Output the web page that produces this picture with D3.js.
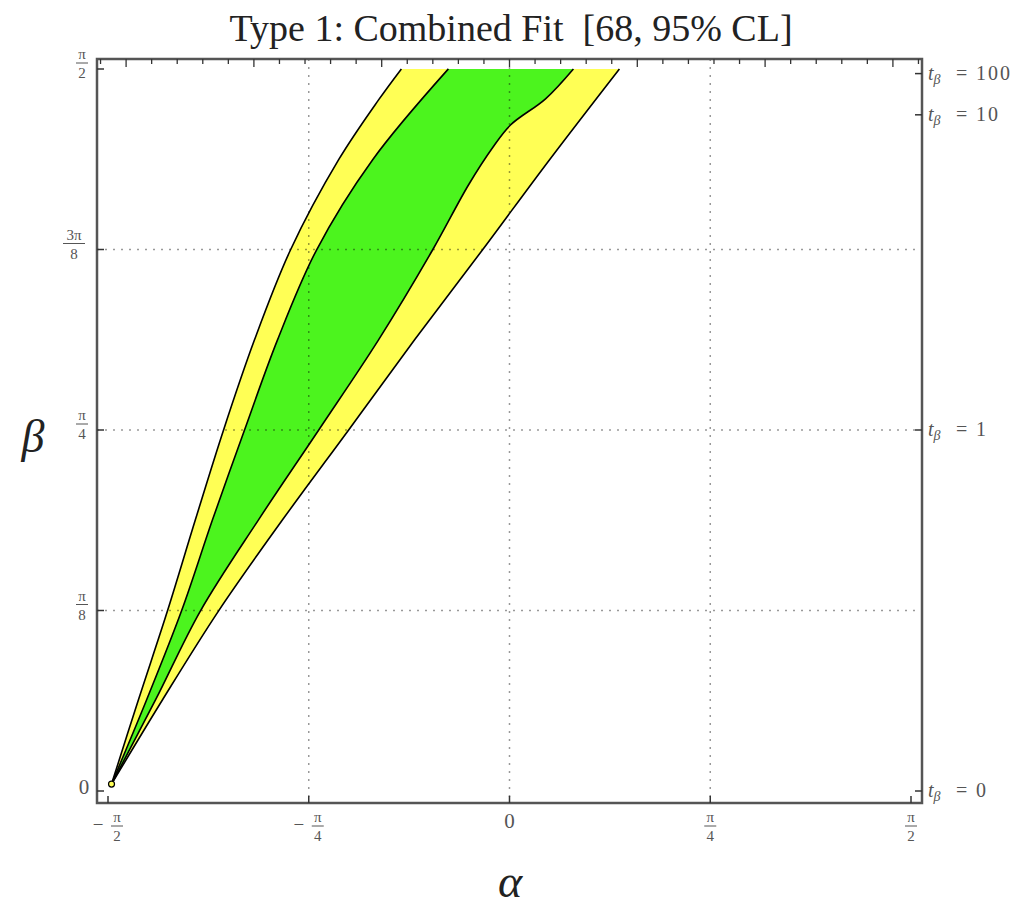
<!DOCTYPE html>
<html>
<head>
<meta charset="utf-8">
<script src="https://cdn.jsdelivr.net/npm/d3@7"></script>
<style>
body { margin: 0; background: #fff; }
text { font-family: "Liberation Serif", "DejaVu Serif", serif; }
</style>
</head>
<body>
<div id="chart"></div>
<script>
// region boundaries, [alpha, beta] in radians
var outerLeft = [[-1.557, 0.015], [-1.452, 0.198], [-1.338, 0.392], [-1.229, 0.590], [-1.119, 0.785],
  [-0.998, 0.981], [-0.857, 1.177], [-0.669, 1.373], [-0.513, 1.503], [-0.423, 1.571]];
var innerLeft = [[-1.557, 0.015], [-1.420, 0.198], [-1.283, 0.392], [-1.162, 0.590], [-1.037, 0.785],
  [-0.908, 0.981], [-0.755, 1.177], [-0.536, 1.373], [-0.239, 1.571]];
var innerRight = [[-1.557, 0.015], [-1.385, 0.198], [-1.209, 0.392], [-0.982, 0.590], [-0.747, 0.785],
  [-0.513, 0.981], [-0.301, 1.177], [-0.160, 1.319], [-0.067, 1.399], [0.004, 1.449], [0.141, 1.506], [0.250, 1.571]];
var outerRight = [[-1.557, 0.015], [-1.358, 0.198], [-1.138, 0.392], [-0.888, 0.590], [-0.630, 0.785],
  [-0.372, 0.981], [-0.106, 1.177], [0.156, 1.373], [0.430, 1.571]];

var alphaTicks = [-Math.PI / 2, -Math.PI / 4, 0, Math.PI / 4, Math.PI / 2];
var alphaSign = ["\u2212", "\u2212", "", "", ""];
var alphaNum = ["\u03c0", "\u03c0", "0", "\u03c0", "\u03c0"];
var alphaDen = ["2", "4", "", "4", "2"];

var betaTicks = [0, Math.PI / 8, Math.PI / 4, 3 * Math.PI / 8, Math.PI / 2];
var betaNum = ["0", "\u03c0", "\u03c0", "3\u03c0", "\u03c0"];
var betaDen = ["", "8", "4", "8", "2"];

var tanBetaTicks = [0, 1, 10, 100];

var alphaGrid = [-Math.PI / 4, 0, Math.PI / 4];
var betaGrid = [Math.PI / 8, Math.PI / 4, 3 * Math.PI / 8];

var width = 1022, height = 909;
var frame = {left: 97, right: 922, top: 59, bottom: 803};

var x = d3.scaleLinear().domain([-Math.PI / 2, Math.PI / 2]).range([108, 911]);
var y = d3.scaleLinear().domain([0, Math.PI / 2]).range([791, 69]);

var svg = d3.select("#chart").append("svg")
  .attr("width", width)
  .attr("height", height);

var line = d3.line()
  .x(function(d) { return x(d[0]); })
  .y(function(d) { return y(d[1]); })
  .curve(d3.curveCatmullRom);

function band(left, right)
{
  return line(left) + line(right.slice().reverse()).replace("M", "L") + "Z";
}

svg.append("path").attr("d", band(outerLeft, outerRight)).attr("fill", "#ffff55");
svg.append("path").attr("d", band(innerLeft, innerRight)).attr("fill", "#4cf41e");

[outerLeft, innerLeft, innerRight, outerRight].forEach(function(c)
{
  svg.append("path")
    .attr("d", line(c))
    .attr("fill", "none")
    .attr("stroke", "#000")
    .attr("stroke-width", 1.6);
});

// small blob at the tip
svg.append("circle")
  .attr("cx", x(outerLeft[0][0])).attr("cy", y(outerLeft[0][1]))
  .attr("r", 3).attr("fill", "#ffff55").attr("stroke", "#000").attr("stroke-width", 1.2);

// dotted grid
svg.selectAll(".gx").data(alphaGrid).enter().append("line")
  .attr("x1", function(d) { return x(d); })
  .attr("x2", function(d) { return x(d); })
  .attr("y1", frame.top).attr("y2", frame.bottom)
  .attr("stroke", "#000").attr("stroke-opacity", 0.4)
  .attr("stroke-width", 1.5).attr("stroke-dasharray", "2,6");
svg.selectAll(".gy").data(betaGrid).enter().append("line")
  .attr("y1", function(d) { return y(d); })
  .attr("y2", function(d) { return y(d); })
  .attr("x1", frame.left).attr("x2", frame.right)
  .attr("stroke", "#000").attr("stroke-opacity", 0.4)
  .attr("stroke-width", 1.5).attr("stroke-dasharray", "2,6");

// frame
svg.append("rect")
  .attr("x", frame.left).attr("y", frame.top)
  .attr("width", frame.right - frame.left)
  .attr("height", frame.bottom - frame.top)
  .attr("fill", "none").attr("stroke", "#555").attr("stroke-width", 2.5);

var tickColor = "#333";

// bottom ticks
svg.selectAll(".tb").data(alphaTicks).enter().append("line")
  .attr("x1", function(d) { return x(d); }).attr("x2", function(d) { return x(d); })
  .attr("y1", frame.bottom).attr("y2", frame.bottom - 7)
  .attr("stroke", tickColor).attr("stroke-width", 1.5);

// top ticks, every 0.1 rad
svg.selectAll(".tt").data(d3.range(-16, 17)).enter().append("line")
  .attr("x1", function(d) { return x(d / 10); }).attr("x2", function(d) { return x(d / 10); })
  .attr("y1", frame.top)
  .attr("y2", function(d) { return frame.top + (d % 5 == 0 ? 8 : 5); })
  .attr("stroke", tickColor).attr("stroke-width", 1.3);

// left ticks
svg.selectAll(".tl").data(betaTicks).enter().append("line")
  .attr("y1", function(d) { return y(d); }).attr("y2", function(d) { return y(d); })
  .attr("x1", frame.left).attr("x2", frame.left + 7)
  .attr("stroke", tickColor).attr("stroke-width", 1.5);

// right ticks at tan(beta) values
svg.selectAll(".tr").data(tanBetaTicks).enter().append("line")
  .attr("y1", function(d) { return y(Math.atan(d)); }).attr("y2", function(d) { return y(Math.atan(d)); })
  .attr("x1", frame.right).attr("x2", frame.right - 7)
  .attr("stroke", tickColor).attr("stroke-width", 1.5);

var labelColor = "#555";

function fraction(cx, cy, num, den, size)
{
  var g = svg.append("g").attr("fill", labelColor);
  g.append("text").attr("x", cx).attr("y", cy - 4)
    .attr("text-anchor", "middle").attr("font-size", size).text(num);
  var w = num.length > 1 ? 22 : 12;
  g.append("line").attr("x1", cx - w / 2).attr("x2", cx + w / 2)
    .attr("y1", cy).attr("y2", cy)
    .attr("stroke", labelColor).attr("stroke-width", 1);
  g.append("text").attr("x", cx).attr("y", cy + 15)
    .attr("text-anchor", "middle").attr("font-size", size).text(den);
}

// alpha tick labels
alphaTicks.forEach(function(d, i)
{
  var px = x(d);
  if (alphaDen[i] == "")
  {
    svg.append("text").attr("x", px).attr("y", 828)
      .attr("text-anchor", "middle").attr("font-size", 21)
      .attr("fill", labelColor).text(alphaNum[i]);
    return;
  }
  var cx = px;
  if (alphaSign[i] != "")
  {
    cx = px + 9;
    svg.append("text").attr("x", px - 10).attr("y", 831)
      .attr("text-anchor", "middle").attr("font-size", 19)
      .attr("fill", labelColor).text(alphaSign[i]);
  }
  fraction(cx, 826, alphaNum[i], alphaDen[i], 15);
});

// beta tick labels
betaTicks.forEach(function(d, i)
{
  var py = y(d);
  if (betaDen[i] == "")
  {
    svg.append("text").attr("x", 84).attr("y", py + 3)
      .attr("text-anchor", "middle").attr("font-size", 21)
      .attr("fill", labelColor).text(betaNum[i]);
    return;
  }
  var cx = betaNum[i].length > 1 ? 74 : 82;
  fraction(cx, py - 6, betaNum[i], betaDen[i], 15);
});

// tan(beta) labels on the right
tanBetaTicks.forEach(function(d)
{
  var py = y(Math.atan(d)) + 6;
  var t = svg.append("text").attr("x", 928).attr("y", py)
    .attr("font-size", 20).attr("fill", labelColor);
  t.append("tspan").attr("font-style", "italic").text("t");
  t.append("tspan").attr("font-style", "italic").attr("font-size", 14).attr("dy", 4).text("\u03b2");
  t.append("tspan").attr("x", 956).attr("dy", -4).text("=");
  t.append("tspan").attr("x", 976).attr("letter-spacing", 2).text(d);
});

// title and axis labels
svg.append("text")
  .attr("x", 511).attr("y", 41)
  .attr("text-anchor", "middle")
  .attr("font-size", 38)
  .style("white-space", "pre")
  .attr("fill", "#222")
  .text("Type 1: Combined Fit  [68, 95% CL]");

svg.append("text")
  .attr("x", 510).attr("y", 897)
  .attr("text-anchor", "middle")
  .attr("font-size", 46).attr("font-style", "italic")
  .attr("fill", "#222")
  .text("\u03b1");

svg.append("text")
  .attr("x", 33).attr("y", 452)
  .attr("text-anchor", "middle")
  .attr("font-size", 46).attr("font-style", "italic")
  .attr("fill", "#222")
  .text("\u03b2");
</script>
</body>
</html>
